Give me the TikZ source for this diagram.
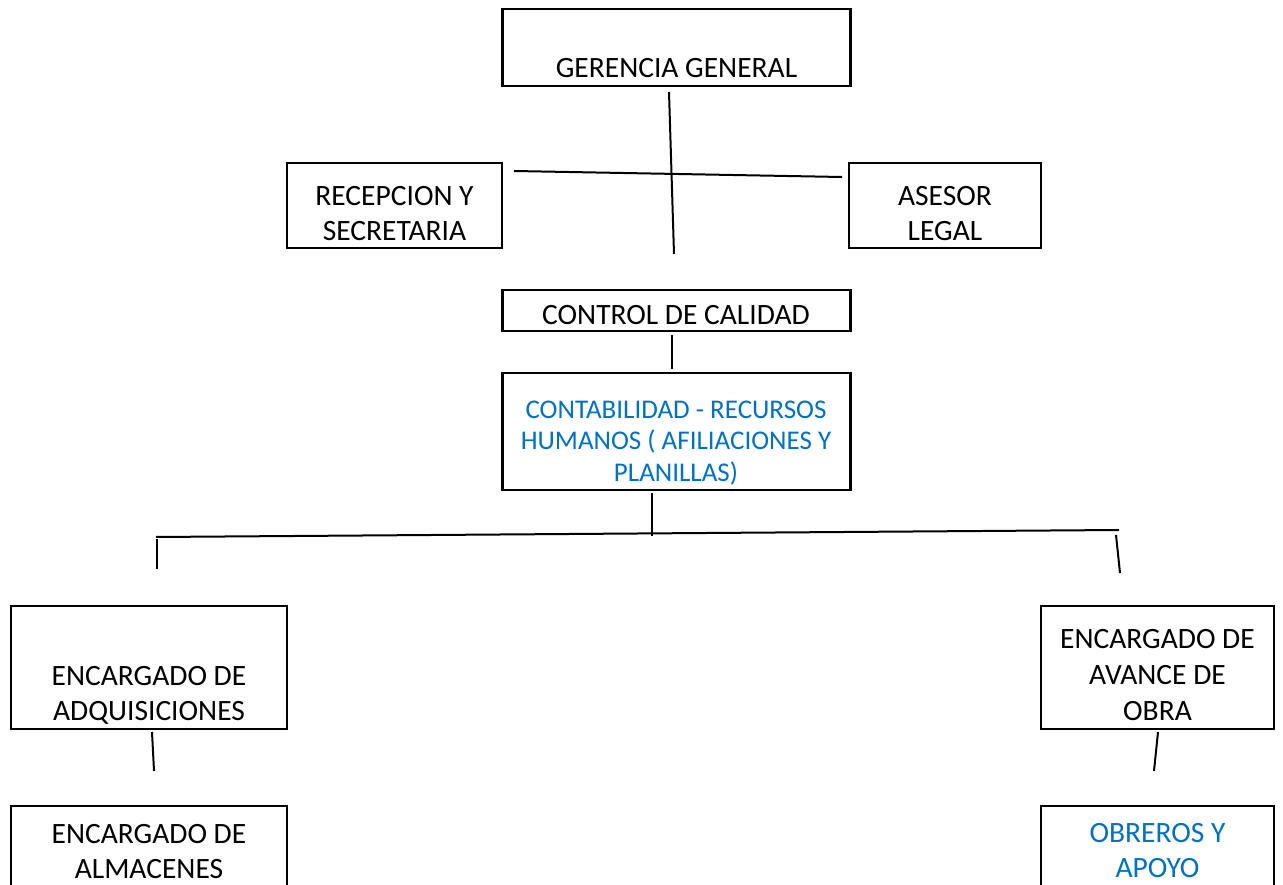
\documentclass[tikz,border=0pt]{standalone}
\usepackage{fontspec}
\setmainfont{Carlito}
\definecolor{wordblue}{HTML}{0070C0}
\begin{document}
\begin{tikzpicture}[x=1pt,y=-1pt,
  box/.style={draw=black,line width=2.4pt,minimum width=#1,inner sep=0pt},
  ln/.style={line width=2pt},
  txt/.style={anchor=base,inner sep=0pt,font=\fontsize{29.5}{36}\selectfont},
  btxt/.style={txt,text=wordblue},
  stxt/.style={btxt,font=\fontsize{27}{31}\selectfont}]
\useasboundingbox (0,0) rectangle (1283,885);
% boxes
\node[box=348,minimum height=77] (gg) at (676.5,47.5) {};
\node[box=215,minimum height=85] (rs) at (394.5,205.5) {};
\node[box=192,minimum height=85] (al) at (945,205.5) {};
\node[box=348,minimum height=41] (cc) at (676.5,310.5) {};
\node[box=348,minimum height=117] (ct) at (676.5,431.5) {};
\node[box=276,minimum height=123] (ea) at (149,667.5) {};
\node[box=233,minimum height=123] (eo) at (1157.5,667.5) {};
\node[box=276,minimum height=100] (am) at (149,856) {};
\node[box=233,minimum height=100] (ob) at (1157.5,856) {};
% texts
\node[txt] (t1) at (676.5,77.5) {GERENCIA GENERAL};
\node[txt] (t2) at (394.5,205.5) {RECEPCION Y};
\node[txt] (t3) at (394.5,241) {SECRETARIA};
\node[txt] (t4) at (945,205.5) {ASESOR};
\node[txt] (t5) at (945,241) {LEGAL};
\node[txt] (t6) at (676,324.5) {CONTROL DE CALIDAD};
\node[stxt] (t7) at (676,418) {CONTABILIDAD - RECURSOS};
\node[stxt] (t8) at (676,449.5) {HUMANOS ( AFILIACIONES Y};
\node[stxt] (t9) at (676,481) {PLANILLAS)};
\node[txt] (t10) at (149,685.5) {ENCARGADO DE};
\node[txt] (t11) at (149,720.5) {ADQUISICIONES};
\node[txt] (t12) at (1157.5,648.5) {ENCARGADO DE};
\node[txt] (t13) at (1157.5,684.5) {AVANCE DE};
\node[txt] (t14) at (1157.5,720.5) {OBRA};
\node[txt] (t15) at (149,843.5) {ENCARGADO DE};
\node[txt] (t16) at (149,878.5) {ALMACENES};
\node[btxt] (t17) at (1157.5,842.5) {OBREROS Y};
\node[btxt] (t18) at (1157.5,877.5) {APOYO};
% connector end points
\coordinate (v1a) at (669,92);  \coordinate (v1b) at (674,254);
\coordinate (h1a) at (514,171); \coordinate (h1b) at (842,177);
\coordinate (v2a) at (672,335); \coordinate (v2b) at (672,369);
\coordinate (v3a) at (652,493); \coordinate (v3b) at (652,536);
\coordinate (h2a) at (156,537); \coordinate (h2b) at (1119,530);
\coordinate (v4a) at (157,539); \coordinate (v4b) at (157,569);
\coordinate (v5a) at (1116,535); \coordinate (v5b) at (1120,573);
\coordinate (v6a) at (152,732); \coordinate (v6b) at (154,771);
\coordinate (v7a) at (1158,732); \coordinate (v7b) at (1154,771);
\draw[ln] (v1a) -- (v1b);
\draw[ln] (h1a) -- (h1b);
\draw[ln] (v2a) -- (v2b);
\draw[ln] (v3a) -- (v3b);
\draw[ln] (h2a) -- (h2b);
\draw[ln] (v4a) -- (v4b);
\draw[ln] (v5a) -- (v5b);
\draw[ln] (v6a) -- (v6b);
\draw[ln] (v7a) -- (v7b);
\end{tikzpicture}
\end{document}
